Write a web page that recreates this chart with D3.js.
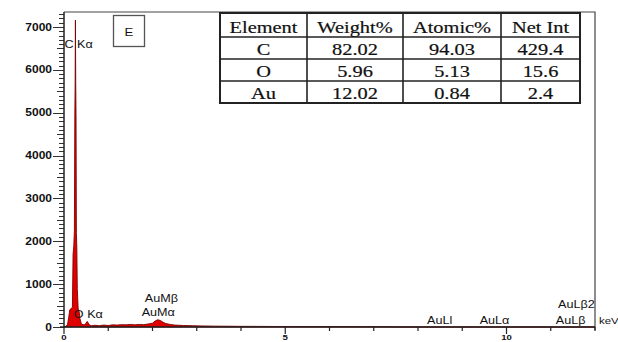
<!DOCTYPE html>
<html><head>
<meta charset="utf-8">
<script src="https://d3js.org/d3.v7.min.js"></script>
<style>
  body { margin: 0; background: #fff; }
  svg { display: block; }
</style>
</head>
<body>
<div id="chart"></div>
<script>

// spectrum: [keV, counts]
var spectrum = [
  [0.00, 0], [0.04, 10], [0.08, 60], [0.11, 250], [0.13, 400], [0.16, 430],
  [0.19, 460], [0.205, 1700], [0.222, 1900], [0.235, 2250], [0.245, 4950],
  [0.252, 5700], [0.258, 7160], [0.265, 5700], [0.272, 4900], [0.28, 2200],
  [0.29, 1850], [0.30, 900], [0.32, 420], [0.34, 380], [0.36, 200], [0.39, 80],
  [0.43, 50], [0.47, 60], [0.50, 90], [0.52, 130], [0.54, 110], [0.57, 50],
  [0.62, 30], [0.70, 40], [0.80, 30], [0.90, 45], [1.00, 35], [1.10, 50],
  [1.20, 45], [1.30, 55], [1.40, 50], [1.50, 60], [1.60, 50], [1.70, 60],
  [1.80, 55], [1.90, 70], [2.00, 90], [2.06, 140], [2.12, 170], [2.18, 150],
  [2.24, 110], [2.30, 80], [2.40, 60], [2.50, 45], [2.70, 35], [2.90, 30],
  [3.10, 25], [3.40, 20], [3.70, 18], [4.00, 15], [4.40, 14], [4.80, 12],
  [5.20, 12], [5.60, 10], [6.00, 10], [6.40, 9], [6.80, 8], [7.20, 7],
  [7.40, 5], [7.50, 0], [12.0, 0]
];

var lineNames   = ["C K\u03b1", "O K\u03b1", "AuM\u03b2", "AuM\u03b1", "AuLl", "AuL\u03b1", "AuL\u03b22", "AuL\u03b2"];
var lineEnergy  = [0.33, 0.55, 2.20, 2.13, 8.49, 9.73, 11.58, 11.45];
var lineLevel   = [6500, 210, 590, 260, 70, 70, 450, 70];

var xTicks = [0, 5, 10];
var yTicks = [0, 1000, 2000, 3000, 4000, 5000, 6000, 7000];

var tableHead = ["Element", "Weight%", "Atomic%", "Net Int"];
var elements  = ["C", "O", "Au"];
var weightPct = ["82.02", "5.96", "12.02"];
var atomicPct = ["94.03", "5.13", "0.84"];
var netInt    = ["429.4", "15.6", "2.4"];

var W = 618, H = 342;
var sx = 1.2; // picture is stretched sideways

var svg = d3.select("#chart").append("svg")
  .attr("width", W).attr("height", H);

var x = d3.scaleLinear().domain([0, 12]).range([64, 595]);
var y = d3.scaleLinear().domain([0, 7350]).range([327, 12]);

function label(g, px, py, txt, size, anchor, weight, family) {
  return g.append("text")
    .attr("transform", "translate(" + px + "," + py + ") scale(" + sx + ",1)")
    .attr("text-anchor", anchor || "start")
    .style("font-family", family || "'Liberation Sans', Arial, sans-serif")
    .style("font-size", size + "px")
    .style("font-weight", weight || "normal")
    .attr("fill", "#111")
    .text(txt);
}

// frame top and right
svg.append("path")
  .attr("d", "M" + x(0) + "," + y(7350) + "H" + x(12) + "V" + (y(0) + 3))
  .attr("fill", "none").attr("stroke", "#444").attr("stroke-width", 1.2);

// spectrum
var area = d3.area()
  .x(function(d) { return x(d[0]); })
  .y0(y(0))
  .y1(function(d) { return y(d[1]); });

svg.append("path")
  .datum(spectrum)
  .attr("d", area)
  .attr("fill", "#e00000")
  .attr("stroke", "#7a0000")
  .attr("stroke-width", 0.9);

// y axis
var yMinor = d3.range(0, 7400, 100);
svg.append("g").selectAll("line").data(yMinor).join("line")
  .attr("x1", x(0)).attr("x2", function(d) { return d % 1000 === 0 ? x(0) - 11 : (d % 500 === 0 ? x(0) - 7 : x(0) - 5); })
  .attr("y1", function(d) { return Math.round(y(d)) + 0.5; })
  .attr("y2", function(d) { return Math.round(y(d)) + 0.5; })
  .attr("stroke", "#333").attr("stroke-width", 1);

svg.append("line")
  .attr("x1", x(0)).attr("x2", x(0))
  .attr("y1", y(0)).attr("y2", y(7350))
  .attr("stroke", "#222").attr("stroke-width", 1.5);

var yl = svg.append("g");
yTicks.forEach(function(t) {
  label(yl, x(0) - 12, y(t) + 3.6, d3.format("d")(t), 10, "end", "bold");
});

// x axis
svg.append("line")
  .attr("x1", x(0) - 4).attr("x2", x(12))
  .attr("y1", y(0)).attr("y2", y(0))
  .attr("stroke", "#222").attr("stroke-width", 1.5);

svg.append("g").selectAll("line").data(d3.range(0, 13, 1)).join("line")
  .attr("x1", function(d) { return x(d); })
  .attr("x2", function(d) { return x(d); })
  .attr("y1", y(0))
  .attr("y2", function(d) { return xTicks.indexOf(d) >= 0 ? y(0) + 7 : y(0) + 4; })
  .attr("stroke", "#222").attr("stroke-width", 1.2);

var xl = svg.append("g");
xTicks.forEach(function(t) {
  label(xl, x(t), y(0) + 12.5, String(t), 8, "middle", "bold");
});
label(xl, x(12) + 4, y(0) - 3, "keV", 9.5, "start");

// peak line labels
var pl = svg.append("g");
lineNames.forEach(function(n, i) {
  label(pl, x(lineEnergy[i]), y(lineLevel[i]), n, 10.5, "middle");
});

// "E" box
svg.append("rect")
  .attr("x", 113.5).attr("y", 15.5).attr("width", 31).attr("height", 31)
  .attr("fill", "#fff").attr("stroke", "#555").attr("stroke-width", 1.3);
label(svg, 129, 35.5, "E", 11, "middle");

// results table
var colEdge = [220, 307, 403, 501, 580];
var rowEdge = [13, 37, 59, 81, 103];
var tg = svg.append("g");

tg.append("rect")
  .attr("x", colEdge[0]).attr("y", rowEdge[0])
  .attr("width", colEdge[4] - colEdge[0]).attr("height", rowEdge[4] - rowEdge[0])
  .attr("fill", "#fff").attr("stroke", "#222").attr("stroke-width", 2);

tg.selectAll("line.c").data(colEdge.slice(1, 4)).join("line")
  .attr("class", "c")
  .attr("x1", function(d) { return d; }).attr("x2", function(d) { return d; })
  .attr("y1", rowEdge[0]).attr("y2", rowEdge[4])
  .attr("stroke", "#222").attr("stroke-width", 1.6);

tg.selectAll("line.r").data(rowEdge.slice(1, 4)).join("line")
  .attr("class", "r")
  .attr("x1", colEdge[0]).attr("x2", colEdge[4])
  .attr("y1", function(d) { return d; }).attr("y2", function(d) { return d; })
  .attr("stroke", "#222").attr("stroke-width", 1.6);

var rows = [tableHead];
elements.forEach(function(e, i) {
  rows.push([e, weightPct[i], atomicPct[i], netInt[i]]);
});

rows.forEach(function(r, ri) {
  r.forEach(function(c, ci) {
    var cx = (colEdge[ci] + colEdge[ci + 1]) / 2;
    var cy = rowEdge[ri + 1] - 4.5;
    label(tg, cx, cy, c, 17, "middle", "normal", "'Liberation Serif', 'Times New Roman', serif")
      .attr("stroke", "#111").attr("stroke-width", 0.2);
  });
});

</script>
</body></html>
